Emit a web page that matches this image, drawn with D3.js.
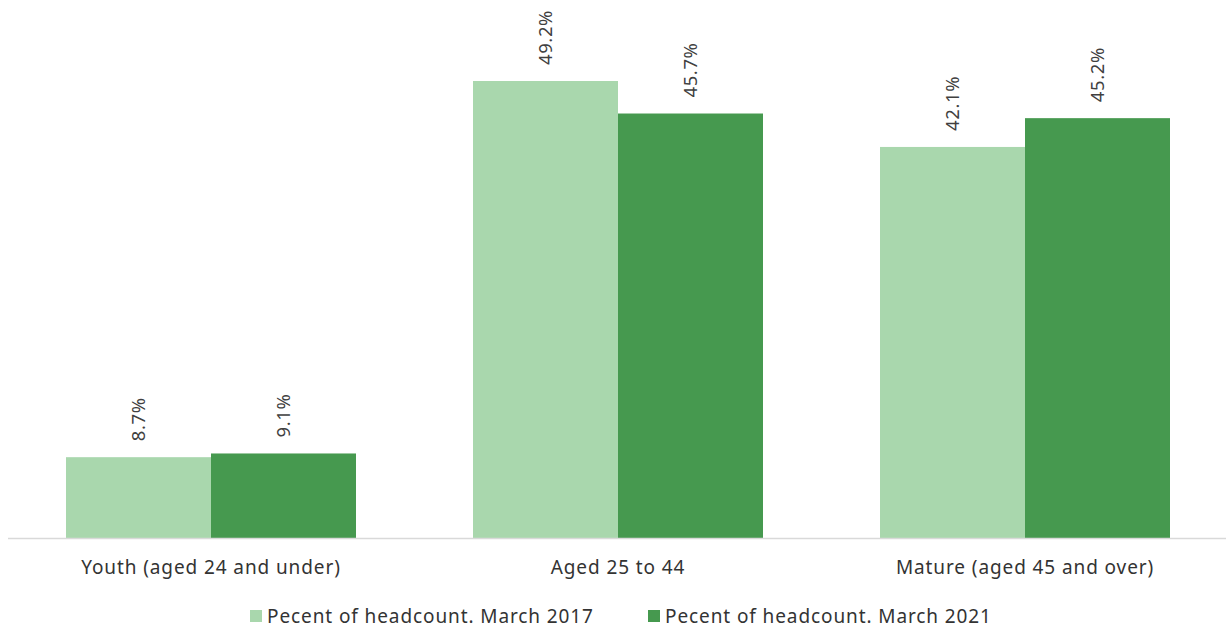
<!DOCTYPE html>
<html>
<head>
<meta charset="utf-8">
<script src="https://cdn.jsdelivr.net/npm/d3@7"></script>
<style>
  html, body { margin: 0; padding: 0; background: #fff; }
  svg { display: block; font-family: "Noto Sans", "DejaVu Sans", sans-serif; }
</style>
</head>
<body>
<svg id="chart" width="1226" height="628"></svg>
<script>
// Age groups and headcount shares
const categories = ["Youth (aged 24 and under)", "Aged 25 to 44", "Mature (aged 45 and over)"];
const seriesNames = ["Pecent of headcount. March 2017", "Pecent of headcount. March 2021"];
const values2017 = [8.7, 49.2, 42.1];
const values2021 = [9.1, 45.7, 45.2];
const colors = ["#a9d7ad", "#46994f"];

const data = categories.map((c, i) => ({ category: c, values: [values2017[i], values2021[i]] }));

const svg = d3.select("#chart");
const W = 1226, H = 628;
const margin = { left: 7.5, right: -2.5, top: 0, bottom: 90 };
const baseY = 538;

const x0 = d3.scaleBand()
  .domain(categories)
  .range([margin.left, W - margin.right])
  .paddingInner(0)
  .paddingOuter(0);

const x1 = d3.scaleBand()
  .domain(d3.range(seriesNames.length))
  .range([58.5, 348.5])
  .padding(0);

const y = d3.scaleLinear()
  .domain([0, 49.2])
  .range([baseY, 81]);

// Bars
const groups = svg.append("g")
  .selectAll("g")
  .data(data)
  .join("g")
  .attr("transform", d => `translate(${x0(d.category)},0)`);

groups.selectAll("rect")
  .data(d => d.values.map((v, i) => ({ v, i })))
  .join("rect")
  .attr("x", d => x1(d.i))
  .attr("width", x1.bandwidth())
  .attr("y", d => y(d.v))
  .attr("height", d => y(0) - y(d.v))
  .attr("fill", d => colors[d.i]);

// Value labels, rotated
groups.selectAll("text")
  .data(d => d.values.map((v, i) => ({ v, i })))
  .join("text")
  .attr("transform", d => `translate(${x1(d.i) + x1.bandwidth() / 2 + 6.5},${y(d.v) - 16}) rotate(-90)`)
  .attr("text-anchor", "start")
  .attr("font-size", 18.5)
  .attr("letter-spacing", 0.6)
  .attr("fill", "#404040")
  .text(d => d.v.toFixed(1) + "%");

// Category axis
const axis = svg.append("g")
  .attr("transform", `translate(0,${baseY})`)
  .call(d3.axisBottom(x0).tickSize(0).tickPadding(23));
axis.select(".domain").attr("stroke", "#d9d9d9").attr("stroke-width", 1.5);
axis.selectAll("text")
  .attr("font-size", 19)
  .attr("letter-spacing", 0.9)
  .attr("fill", "#333")
  .attr("font-family", "\"Noto Sans\", sans-serif");

// Legend
const legendX = [250, 648];
const legend = svg.append("g")
  .selectAll("g")
  .data(seriesNames)
  .join("g")
  .attr("transform", (d, i) => `translate(${legendX[i]},610)`);
legend.append("rect")
  .attr("width", 12).attr("height", 12)
  .attr("fill", (d, i) => colors[i]);
legend.append("text")
  .attr("x", 17).attr("y", 12.5)
  .attr("font-size", 19)
  .attr("letter-spacing", 0.9)
  .attr("fill", "#333")
  .text(d => d);
</script>
</body>
</html>
